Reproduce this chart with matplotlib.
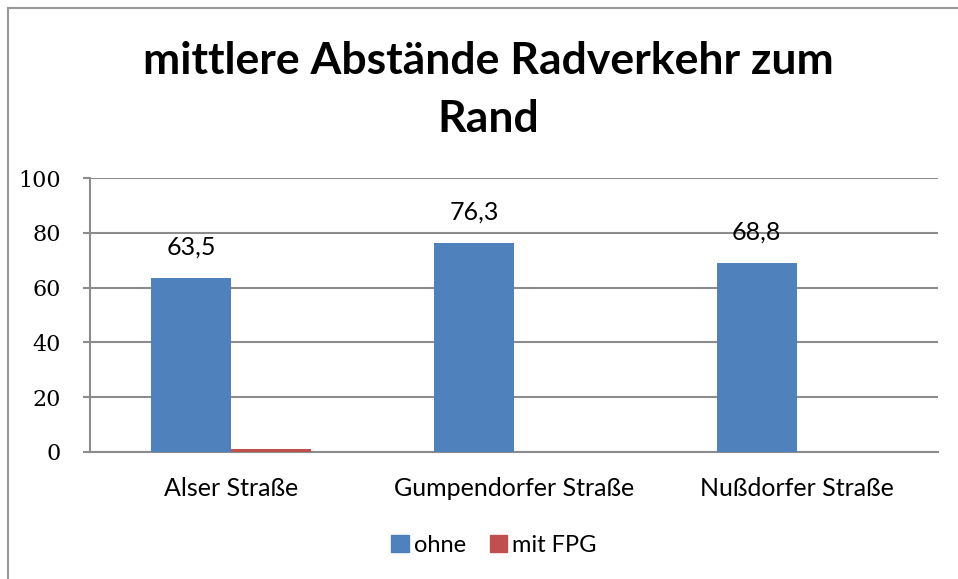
import matplotlib
matplotlib.use("Agg")
import matplotlib.pyplot as plt
import numpy as np
from matplotlib.patches import Rectangle

categories = ["Alser Straße", "Gumpendorfer Straße", "Nußdorfer Straße"]
ohne = [63.5, 76.3, 68.8]
mit_fpg = [1.0, 0.0, 0.0]
series_names = ["ohne", "mit FPG"]
yticks = [0, 20, 40, 60, 80, 100]
title = "mittlere Abstände Radverkehr zum\nRand"

blue = "#4F81BD"
red = "#C0504D"
grid_c = "#8C8C8C"

W, H = 958, 579
fig = plt.figure(figsize=(W / 100, H / 100), dpi=100)
fig.patch.set_facecolor("white")

# outer chart border (left and top visible)
fig.add_artist(plt.Line2D([7.5 / W, 7.5 / W], [0, 1 - 8 / H], transform=fig.transFigure,
                          color="#999999", lw=1.5))
fig.add_artist(plt.Line2D([7.5 / W, 1], [1 - 8 / H, 1 - 8 / H], transform=fig.transFigure,
                          color="#999999", lw=1.5))

left, right, top, bottom = 90, 938, 178, 452
ax = fig.add_axes([left / W, 1 - bottom / H, (right - left) / W, (bottom - top) / H])

x = np.arange(len(categories))
w = 0.283
ax.bar(x - w / 2, ohne, width=w, color=blue, label=series_names[0], zorder=3)
ax.bar(x + w / 2, mit_fpg, width=w, color=red, label=series_names[1], zorder=3)

ax.set_xlim(-0.5, len(categories) - 0.5)
ax.set_ylim(0, 100)
ax.set_yticks(yticks)
ax.set_yticklabels([str(v) for v in yticks], family="DejaVu Serif", fontsize=16)
ax.yaxis.grid(True, color=grid_c, lw=1.5, zorder=0)
ax.set_axisbelow(True)
for s in ["top", "right"]:
    ax.spines[s].set_visible(False)
ax.spines["left"].set_color(grid_c)
ax.spines["left"].set_linewidth(1.5)
ax.spines["bottom"].set_color(grid_c)
ax.spines["bottom"].set_linewidth(1.5)
ax.tick_params(axis="y", length=5, width=1.5, color=grid_c, pad=16)
ax.set_xticks(x)
ax.set_xticklabels(categories, family="Lato", fontsize=18)
ax.tick_params(axis="x", length=0, pad=18)

for xi, v in zip(x, ohne):
    ax.annotate(f"{v:.1f}".replace(".", ","), (xi - w / 2, v), xytext=(0, 14),
                textcoords="offset points", ha="center", va="bottom",
                family="Lato", fontsize=18)

fig.text(488 / W, 1 - 90 / H, title, ha="center", va="center", family="Lato",
         fontweight="bold", fontsize=32, linespacing=1.55)

handles = [Rectangle((0, 0), 1, 1, color=blue), Rectangle((0, 0), 1, 1, color=red)]
fig.legend(handles, series_names, loc="center", bbox_to_anchor=(494 / W, 1 - 545 / H),
           ncol=2, frameon=False, prop={"family": "Lato", "size": 17},
           handlelength=0.75, handleheight=0.75, handletextpad=0.2, columnspacing=1.0)

fig.savefig("out.png", dpi=100, facecolor="white")
